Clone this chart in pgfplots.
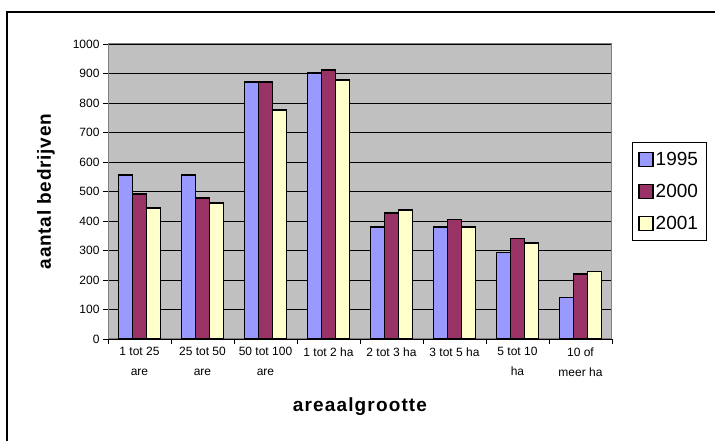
\documentclass[border=0pt]{standalone}
\usepackage{fontspec}
\setmainfont{Liberation Sans}
\usepackage{pgfplots}
\pgfplotsset{compat=1.18}
\definecolor{c95}{HTML}{9999FF}
\definecolor{c00}{HTML}{993366}
\definecolor{c01}{HTML}{FFFFCC}
\definecolor{plotbg}{HTML}{C0C0C0}
\pgfplotsset{sqleg/.style={legend image code/.code={\draw[##1, line width=1.4pt] (0pt,-7pt) rectangle (14pt,7pt);}}}
\begin{document}
\begin{tikzpicture}
\useasboundingbox (0pt,0pt) rectangle (715pt,441pt);
\draw[line width=1.2pt] (7pt,0pt) -- (7pt,429pt) -- (715pt,429pt);
\begin{axis}[
  at={(108pt,102pt)}, anchor=south west,
  scale only axis, width=504pt, height=295pt,
  xmin=-0.5, xmax=7.5, ymin=0, ymax=1000,
  ybar=0pt, bar width=0.222,
  axis background/.style={fill=plotbg},
  axis line style={draw=gray, line width=1pt},
  xtick={-0.5,0.5,...,7.5},
  x tick label as interval,
  xticklabels={{1 tot 25\\are},{25 tot 50\\are},{50 tot 100\\are},{1 tot 2 ha},{2 tot 3 ha},{3 tot 5 ha},{5 tot 10\\ha},{10 of\\meer ha}},
  xticklabel style={align=center, font=\fontsize{12}{20}\selectfont},
  ytick={0,100,...,1000},
  yticklabel style={font=\fontsize{12}{12}\selectfont},
  /pgf/number format/assume math mode=true,
  /pgf/number format/1000 sep={},
  ymajorgrids, major grid style={black, line width=0.8pt},
  tick align=outside, tick pos=left,
  major tick length=5pt, tick style={black, line width=0.8pt},
  ylabel={aantal bedrijven},
  every axis y label/.style={at={(rel axis cs:0,0.5)}, xshift=-62pt, rotate=90, anchor=center, font=\fontsize{19}{19}\bfseries\selectfont\addfontfeature{LetterSpace=4}},
  xlabel={areaalgrootte},
  every axis x label/.style={at={(rel axis cs:0.5,0)}, yshift=-68pt, anchor=center, font=\fontsize{19}{19}\bfseries\selectfont\addfontfeature{LetterSpace=6}},
  legend style={at={(rel axis cs:1.0397,0.6678)}, anchor=north west, draw=black, line width=0.6pt, fill=white, font=\fontsize{19}{19}\selectfont, row sep=13pt, inner xsep=6pt, inner ysep=8pt},
  legend cell align=left,
]
\addplot[fill=c95, draw=black, line width=1.8pt, sqleg] coordinates {(0,556) (1,556) (2,871) (3,902) (4,380) (5,380) (6,293) (7,141)};
\addplot[fill=c00, draw=black, line width=1.8pt, sqleg] coordinates {(0,492) (1,477) (2,871) (3,912) (4,428) (5,405) (6,341) (7,220)};
\addplot[fill=c01, draw=black, line width=1.8pt, sqleg] coordinates {(0,444) (1,461) (2,775) (3,879) (4,437) (5,380) (6,326) (7,229)};
\legend{1995,2000,2001}
\end{axis}
\end{tikzpicture}
\end{document}
